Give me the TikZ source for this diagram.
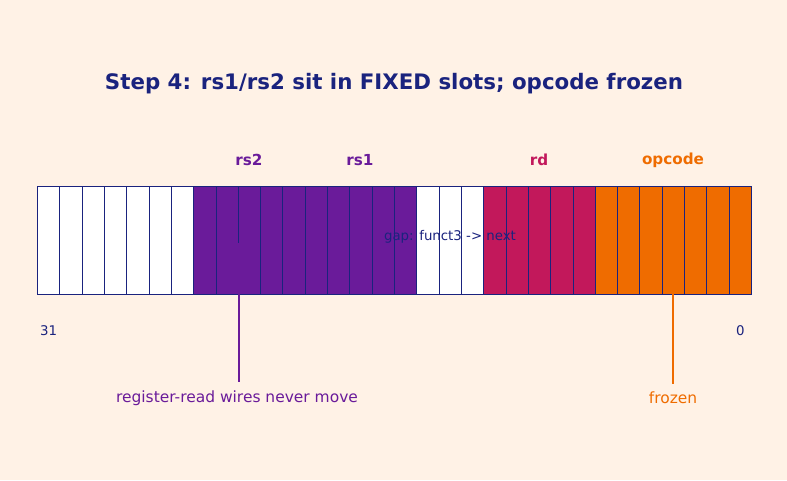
\documentclass[tikz,border=0pt]{standalone}
\usepackage{fontspec}
\setmainfont{DejaVu Sans}
\definecolor{bgcream}{HTML}{FFF2E6}
\definecolor{navy}{HTML}{1A237E}
\definecolor{regpurple}{HTML}{6A1B9A}
\definecolor{rdred}{HTML}{C2185B}
\definecolor{opcorange}{HTML}{EF6C00}

\begin{document}
\begin{tikzpicture}[x=0.75pt,y=-0.75pt,
	cell/.style={draw=navy,line width=0.7pt,minimum width=16.734pt,minimum height=81pt,inner sep=0pt,anchor=west},
	field/.style={font=\bfseries\fontsize{11.4}{13}\selectfont},
	note/.style={font=\fontsize{11.6}{14}\selectfont,inner sep=6pt},
	bitnum/.style={font=\fontsize{10}{12}\selectfont,text=navy}]

%Background sets the page size
	\fill[bgcream] (0,0) rectangle (787,480);

%Title
	\node[font=\bfseries\fontsize{16}{19}\selectfont,text=navy] (title) at (394,83.5) {Step 4: rs1/rs2 sit in FIXED slots; opcode frozen};

%The foreach command runs over each field of the word and then over its bits
	\foreach \first/\last/\col in {0/6/white,7/16/regpurple,17/19/white,20/24/rdred,25/31/opcorange}
		{
		\foreach \i in {\first,...,\last}
			\node[cell,fill=\col] (c\i) at ({37+22.3125*\i},240) {};
		}

%Field names above the word
	\foreach \name/\x/\col in {rs2/249/regpurple,rs1/360/regpurple,rd/539/rdred,opcode/673/opcorange}
		\node[field,text=\col] (f\name) at (\x,160) {\name};

%Bit numbers under the first and last bit
	\node[bitnum] (b31) at (c0 |- 0,331) {31};
	\node[bitnum] (b0) at (c31 |- 0,331) {0};

%Note lying over the funct3 gap
	\node[font=\fontsize{10}{12}\selectfont,text=navy] (gap) at (450,237) {gap: funct3 -> next};

%Notes below the word and their lines
	\node[note,text=regpurple] (wires) at (237,398) {register-read wires never move};
	\node[note,text=opcorange] (frozen) at (673,398) {frozen};
	\draw[regpurple,line width=1.5pt] ([yshift=-2.25pt]c8.east) -- (wires.north -| c8.east);
	\draw[opcorange,line width=1.5pt] (c28.center) -- (frozen.north -| c28.center);

\end{tikzpicture}
\end{document}
